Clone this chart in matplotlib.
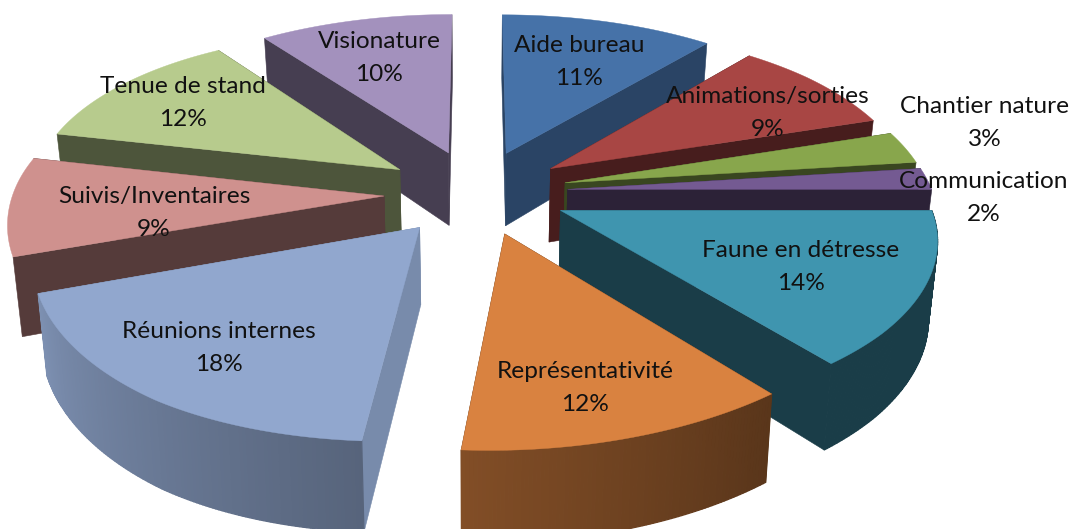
import numpy as np
import matplotlib
matplotlib.use("Agg")
import matplotlib.pyplot as plt
from matplotlib.colors import to_rgb

categories = ["Aide bureau", "Animations/sorties", "Chantier nature", "Communication",
              "Faune en détresse", "Représentativité", "Réunions internes",
              "Suivis/Inventaires", "Tenue de stand", "Visionature"]
values = [11, 9, 3, 2, 14, 12, 18, 9, 12, 10]
colors = ["#4672A8", "#A84644", "#88A64C", "#745A92", "#3F95AF",
          "#D98240", "#91A7CE", "#CF918E", "#B7CB8D", "#A391BD"]
wall_shade = [0.60, 0.42, 0.42, 0.38, 0.41, 0.40, 0.83, 0.41, 0.42, 0.43]
label_xy = [(579, 62), (768, 113), (985, 123), (984, 198), (801, 267),
            (585, 388), (219, 348), (154, 213), (183, 103), (379, 58)]

CX, CY, RX, RY, K = 476.0, 192.0, 368.0, 170.0, 0.15
EXPLODE, DEPTH, BOTTOM_SCALE = 0.25, 75.0, 0.98
FRONT_SKEW, LEFT_LIFT, RIGHT_PINCH = 14.0, 12.0, 12.0


def project(u, v, bottom=False):
    den = 1 + K * v
    x = CX + RX * u / den - FRONT_SKEW * np.minimum(v, 0) ** 2
    x = x - RIGHT_PINCH * np.maximum(u - 1.0, 0)
    y = CY - RY * v / den - LEFT_LIFT * np.maximum(-u - 0.7, 0)
    if bottom:
        x = CX + (x - CX) * BOTTOM_SCALE
        y = y + DEPTH / den
    return x, y


def outer_shade(deg):
    return np.interp(deg, [0, 140, 184, 248, 360], [0.41, 0.41, 0.60, 0.86, 0.86])


fig = plt.figure(figsize=(10.72, 5.29), dpi=100, facecolor="white")
ax = fig.add_axes([0, 0, 1, 1])
ax.set_xlim(0, 1072)
ax.set_ylim(529, 0)
ax.axis("off")

edges = np.cumsum([0] + values) / sum(values) * 360.0
slices = []
for i in range(len(values)):
    a0, a1 = edges[i], edges[i + 1]
    mid = np.radians((a0 + a1) / 2)
    ou, ov = EXPLODE * np.sin(mid), EXPLODE * np.cos(mid)
    slices.append((ov, i, a0, a1, ou))

for ov, i, a0, a1, ou in sorted(slices, key=lambda s: -s[0]):
    base = np.array(to_rgb(colors[i]))
    deg = np.linspace(a0, a1, max(int(a1 - a0) * 2, 8))
    rad = np.radians(deg)
    u, v = ou + np.sin(rad), ov + np.cos(rad)
    tx, ty = project(u, v)
    bx, by = project(u, v, bottom=True)
    ax0, ay0 = project(ou, ov)
    bx0, by0 = project(ou, ov, bottom=True)
    wall = tuple(base * wall_shade[i])
    # radial walls
    ax.fill([ax0, tx[0], bx[0], bx0], [ay0, ty[0], by[0], by0],
            color=wall, lw=0.4, zorder=1)
    ax.fill([ax0, tx[-1], bx[-1], bx0], [ay0, ty[-1], by[-1], by0],
            color=wall, lw=0.4, zorder=1)
    # outer wall as shaded strips, only where it faces the viewer
    for j in range(len(deg) - 1):
        m = (deg[j] + deg[j + 1]) / 2
        if 90 <= m <= 248.4:
            c = tuple(base * outer_shade(m))
            ax.fill([tx[j], tx[j + 1], bx[j + 1], bx[j]],
                    [ty[j], ty[j + 1], by[j + 1], by[j]],
                    color=c, lw=0.9, zorder=1)
    ax.fill(np.r_[ax0, tx], np.r_[ay0, ty], color=tuple(base), lw=0.3, zorder=1)

for name, val, (x, y) in zip(categories, values, label_xy):
    ax.text(x, y, f"{name}\n{val}%", ha="center", va="center", fontsize=17.6,
            family="Lato", color="#111111", linespacing=1.68, zorder=5)

fig.savefig("out.png", dpi=100, facecolor="white")
